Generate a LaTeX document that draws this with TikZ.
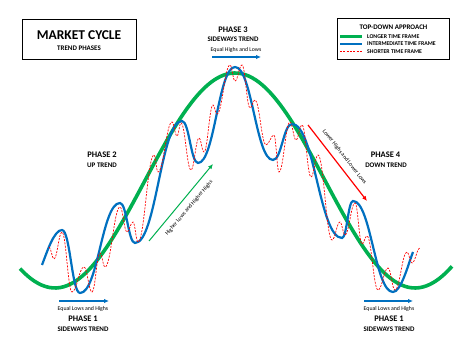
\documentclass[tikz,border=0pt]{standalone}
\usepackage{fontspec}
\setmainfont{Carlito}
\usetikzlibrary{arrows.meta}
\definecolor{cgreen}{RGB}{0,176,80}
\definecolor{cblue}{RGB}{0,112,192}
\definecolor{cred}{RGB}{255,0,0}
\begin{document}
\begin{tikzpicture}[x=1pt,y=-1pt,
  longer/.style={cgreen,line width=3.6pt},
  inter/.style={cblue,line width=2.2pt},
  shorter/.style={cred,line width=0.7pt,dash pattern=on 2pt off 1.3pt},
  box/.style={draw=black,line width=1pt,inner sep=0},
  bigtitle/.style={font=\fontsize{13.5}{15}\selectfont\bfseries,inner sep=0},
  phase/.style={font=\fontsize{8.5}{9}\selectfont\bfseries,inner sep=0},
  trend/.style={font=\fontsize{7}{8}\selectfont\bfseries,inner sep=0},
  note/.style={font=\fontsize{5.8}{6}\selectfont,inner sep=0},
  legtxt/.style={font=\fontsize{5.8}{6}\selectfont\bfseries,inner sep=0,anchor=west},
  barrow/.style={cblue,line width=1.3pt,-{Latex[length=5pt,width=4.5pt]}},
  garrow/.style={cgreen,line width=1pt,-{Latex[length=5pt,width=4.5pt]}},
  rarrow/.style={cred,line width=1.2pt,-{Latex[length=5pt,width=4.5pt]}}
]
\useasboundingbox[fill=white] (0,0) rectangle (474,363);

% title box
\node[box,minimum width=114pt,minimum height=40pt] (titlebox) at (79,40) {};
\node[bigtitle] (title) at (79,35) {MARKET CYCLE};
\node[trend] (subtitle) at (79,48.5) {TREND PHASES};

% legend box
\node[box,minimum width=112pt,minimum height=41pt] (legend) at (393,39.5) {};
\node[trend] (legtitle) at (393.5,27.5) {TOP-DOWN APPROACH};
\draw[longer,line width=3pt] (340,37) -- (362,37);
\draw[inter,line width=1.8pt] (340,44) -- (362,44);
\draw[shorter] (340,51.5) -- (362,51.5);
\node[legtxt] (leg1) at (367,37) {LONGER TIME FRAME};
\node[legtxt] (leg2) at (367,44) {INTERMEDIATE TIME FRAME};
\node[legtxt] (leg3) at (367,51.5) {SHORTER TIME FRAME};

% longer time frame
\draw[longer] plot[domain=20:452,samples=120,smooth] (\x,{180.5-107.5*cos(\x-235)});

% intermediate time frame
\draw[inter] (42,265) .. controls (47,252) and (54,230) .. (62,230)
  \foreach \x/\y [remember=\x as \lx (initially 62), remember=\y as \ly (initially 230)] in
  {80/293,120/203,135/243,182/121,198/163,235/67,273/160,292/124,342/238,353/201,393/292}
  { .. controls ({\lx+0.45*(\x-\lx)},\ly) and ({\x-0.45*(\x-\lx)},\y) .. (\x,\y) }
  .. controls (401,292) and (408,265) .. (413,252);

% shorter time frame
\draw[shorter] (49,247)
  \foreach \x/\y [remember=\x as \lx (initially 49), remember=\y as \ly (initially 247)] in
  {54/259,62/232,72/292,84/267,92/292,100/253,105/267,120/207,127/232,133/222,138/242,
   154/155,158/172,172/122,177/136,181/123,191/170,199/138,204/152,213/105,217/114,
   230/65,235/81,242/65,250/108,255/100,266/145,274/135,279/172,290/122,296/140,302/125,
   311/177,318/155,332/240,340/222,345/235,355/203,362/244,367/236,378/290,388/268,
   395/290,407/252,412/263,420/248}
  { .. controls ({\lx+0.4*(\x-\lx)},\ly) and ({\x-0.4*(\x-\lx)},\y) .. (\x,\y) };

% phase 3
\node[phase] (p3) at (233,30) {PHASE 3};
\node[trend] (p3t) at (233,39.5) {SIDEWAYS TREND};
\node[note] (p3n) at (236,50) {Equal Highs and Lows};
\coordinate (a3s) at (212,57);
\coordinate (a3e) at (261,57);
\draw[barrow] (a3s) -- (a3e);

% phase 2
\node[phase] (p2) at (102,155) {PHASE 2};
\node[trend] (p2t) at (102,165) {UP TREND};
\coordinate (gs) at (149,241);
\coordinate (ge) at (213,164);
\draw[garrow] (gs) -- (ge);
\node[note,rotate=50] (gtxt) at (189,208) {Higher Lows and Higher Highs};

% phase 4
\node[phase] (p4) at (385.5,155) {PHASE 4};
\node[trend] (p4t) at (386,165) {DOWN TREND};
\coordinate (rs) at (308,125);
\coordinate (re) at (367,201);
\draw[rarrow] (rs) -- (re);
\node[note,rotate=-52] (rtxt) at (344.5,157) {Lower Highs and Lower Lows};

% phase 1 left
\coordinate (a1s) at (59,301);
\coordinate (a1e) at (109,301);
\draw[barrow] (a1s) -- (a1e);
\node[note] (p1n) at (83,308.5) {Equal Lows and Highs};
\node[phase] (p1) at (83,319) {PHASE 1};
\node[trend] (p1t) at (83,329) {SIDEWAYS TREND};

% phase 1 right
\coordinate (b1s) at (364,301);
\coordinate (b1e) at (413,301);
\draw[barrow] (b1s) -- (b1e);
\node[note] (q1n) at (389,308.5) {Equal Lows and Highs};
\node[phase] (q1) at (389,319) {PHASE 1};
\node[trend] (q1t) at (389,329) {SIDEWAYS TREND};
\end{tikzpicture}
\end{document}
